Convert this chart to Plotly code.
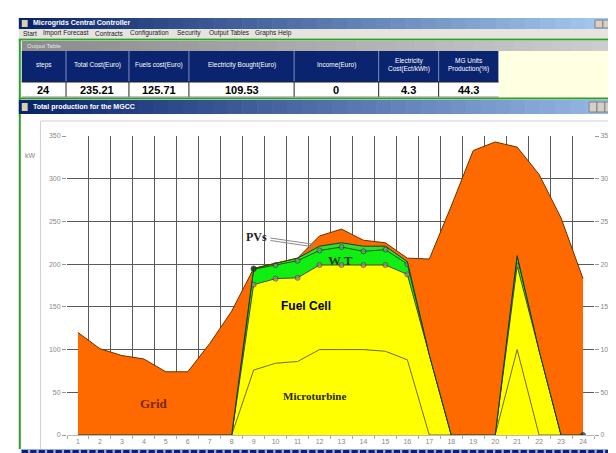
import plotly.graph_objects as go

# ---------------- data ----------------
hours = list(range(1, 25))
hour_labels = [str(h) for h in hours]
microturbine = [0, 0, 0, 0, 0, 0, 0, 0, 76, 84, 86, 100, 100, 100, 98, 88, 0, 0, 0, 0, 100, 0, 0, 0]
fuel_cell = [0, 0, 0, 0, 0, 0, 0, 0, 100, 99, 98, 99, 99, 99, 101, 100, 94, 0, 0, 0, 98, 99, 0, 0]
wind_turbine = [0, 0, 0, 0, 0, 0, 0, 0, 18, 16, 20, 17, 21, 16, 18, 12, 0, 0, 0, 0, 12, 0, 0, 0]
pv = [0, 0, 0, 0, 0, 0, 0, 0, 1, 2, 3, 5, 5, 6, 4, 3, 0, 0, 0, 0, 0, 0, 0, 0]
grid = [120, 101, 93, 89, 74, 74, 107, 145, 0, 0, 0, 12, 16, 7, 4, 4, 112, 268, 333, 343, 127, 206, 254, 183]
y_ticks = [0, 50, 100, 150, 200, 250, 300, 350]

table_headers = ["steps", "Total Cost(Euro)", "Fuels cost(Euro)", "Electricity Bought(Euro)",
                 "Income(Euro)", "Electricity<br>Cost(Ect/kWh)", "MG Units<br>Production(%)"]
table_values = ["24", "235.21", "125.71", "109.53", "0", "4.3", "44.3"]
menu_items = ["Start", "Import Forecast", "Contracts", "Configuration", "Security",
              "Output Tables", "Graphs", "Help"]

# ---------------- geometry helpers ----------------
W, H = 616, 453
L, R, T, B = 59, 595, 128, 427


def X(px):
    return (px - L) / (R - L)


def Y(py):
    return (B - py) / (B - T)


shapes = []
annotations = []


def rect(x0, y0, x1, y1, color, line=None, layer="above"):
    d = dict(type="rect", xref="paper", yref="paper", x0=X(x0), x1=X(x1), y0=Y(y1), y1=Y(y0),
             fillcolor=color, layer=layer, line=dict(width=0))
    if line:
        d["line"] = dict(color=line, width=1)
    shapes.append(d)


def hline(x0, x1, y, color, w=1):
    shapes.append(dict(type="line", xref="paper", yref="paper", x0=X(x0), x1=X(x1), y0=Y(y), y1=Y(y),
                       line=dict(color=color, width=w)))


def vline(x, y0, y1, color, w=1):
    shapes.append(dict(type="line", xref="paper", yref="paper", x0=X(x), x1=X(x), y0=Y(y0), y1=Y(y1),
                       line=dict(color=color, width=w)))


def text(px, py, s, size=7, color="black", bold=False, family="Arial, Liberation Sans", anchor="center"):
    if bold:
        s = "<b>" + s + "</b>"
    annotations.append(dict(xref="paper", yref="paper", x=X(px), y=Y(py), text=s, showarrow=False,
                            xanchor=anchor, yanchor="middle", font=dict(size=size, color=color, family=family)))


def gradient(x0, y0, x1, y1, c0, c1, n=40):
    step = (x1 - x0) / n
    for i in range(n):
        t = i / (n - 1)
        c = tuple(int(c0[k] + (c1[k] - c0[k]) * t) for k in range(3))
        rect(x0 + i * step, y0, x0 + (i + 1) * step + 0.6, y1, "rgb(%d,%d,%d)" % c)


# ---------------- UI chrome ----------------
# main title bar
gradient(10, 10, 616, 21, (10, 36, 106), (166, 202, 240))
text(22, 15.5, "Microgrids Central Controller", size=7, color="white", bold=True, anchor="left")
rect(13, 12, 19, 19, "#d8d0b0")
rect(596, 12, 604, 20, "#d4d0c8", line="#808080")
rect(604, 12, 612, 20, "#d4d0c8", line="#808080")
# menu bar
rect(10, 21, 616, 30, "#e6e4de")
menu_x = [12, 33, 85, 121, 169, 201, 248, 272]
for mx, item in zip(menu_x, menu_items):
    text(mx, 25.5, item, size=6.5, color="#222", anchor="left")
# green frame
hline(10, 616, 31.5, "#2f9e2f", 2)
hline(10, 616, 90.5, "#2f9e2f", 2)
vline(11, 31, 441, "#2f9e2f", 2)
vline(614.5, 31, 91, "#2f9e2f", 2)
# output table header bar
gradient(13, 33, 613, 43, (140, 140, 140), (205, 205, 205), n=30)
text(16, 38, "Output Table", size=6, color="#e8e8e8", anchor="left")
# table
rect(13, 43, 498, 74, "#0b2470")
rect(13, 74, 498, 89, "white")
rect(498, 43, 613, 89, "#ffffe1")
col_edges = [13, 58, 122, 183, 290, 376, 437, 498]
for e in col_edges[1:-1]:
    vline(e, 43, 74, "#7f8fc0")
    vline(e, 74, 89, "#222")
hline(13, 498, 74, "#222")
hline(13, 498, 89, "#888")
for i in range(7):
    cx = (col_edges[i] + col_edges[i + 1]) / 2
    text(cx, 57, table_headers[i], size=6.5, color="white")
    text(cx, 82, table_values[i], size=11, color="black", bold=True)
# inner window title bar
gradient(10, 92, 616, 106, (10, 36, 106), (150, 185, 230))
rect(13, 95, 19, 103, "#d8d0b0")
text(22, 99, "Total production for the MGCC", size=7, color="white", bold=True, anchor="left")
for bx in (590, 598, 606):
    rect(bx, 94, bx + 8, 104, "#d4d0c8", line="#808080")
# chart frame
hline(32, 616, 113, "#cfcfcf")
vline(32, 113, 441, "#cfcfcf")
# bottom strip
rect(12, 441, 616, 453, "#9ab0e0")
bx = 13.0
while bx < 616:
    rect(bx, 442, min(bx + 6.3, 616), 453, "#0c1f73")
    bx += 8.6

# ---------------- chart labels ----------------
text(22, 147, "kW", size=7, color="#888")
text(252, 229, "PVs", size=12, color="#222", bold=True, family="Liberation Serif, Times New Roman")
shapes.append(dict(type="line", xref="paper", yref="paper", x0=X(266), y0=Y(230), x1=X(311), y1=Y(236.5),
                   line=dict(color="#8a8a8a", width=1)))
shapes.append(dict(type="line", xref="paper", yref="paper", x0=X(266), y0=Y(232.5), x1=X(311), y1=Y(239),
                   line=dict(color="#8a8a8a", width=1)))
text(337, 252, "W T", size=13, color="#1e3a10", bold=True, family="Liberation Serif, Times New Roman")
text(302, 298, "Fuel Cell", size=12, color="black", bold=True)
text(311, 388, "Microturbine", size=11, color="#2a2a00", bold=True, family="Liberation Serif, Times New Roman")
text(147, 395, "Grid", size=13, color="#7a2800", bold=True, family="Liberation Serif, Times New Roman")

# ---------------- traces ----------------
active = [h for h in hours]
mk_fc_size = [5 if (9 <= h <= 16 or h == 21) else 0 for h in hours]
mk_wt_size = [5 if (9 <= h <= 16 or h == 21) else 0 for h in hours]
mk_wt_color = ["#5cc7cf" if h == 21 else "#9a7cc4" for h in hours]
mk_pv_size = [5 if h in (9, 24) else 0 for h in hours]

fig = go.Figure()
fig.add_trace(go.Scatter(x=hours, y=microturbine, stackgroup="one", mode="lines",
                         line=dict(color="#6f6a00", width=1), fillcolor="#ffff00", name="Microturbine"))
fig.add_trace(go.Scatter(x=hours, y=fuel_cell, stackgroup="one", mode="lines+markers",
                         line=dict(color="#4a4a20", width=1), fillcolor="#ffff00", name="Fuel Cell",
                         marker=dict(size=mk_fc_size, color="#9a7cc4")))
fig.add_trace(go.Scatter(x=hours, y=wind_turbine, stackgroup="one", mode="lines+markers",
                         line=dict(color="#0a5a0a", width=1), fillcolor="#11ee11", name="WT",
                         marker=dict(size=mk_wt_size, color=mk_wt_color)))
fig.add_trace(go.Scatter(x=hours, y=pv, stackgroup="one", mode="lines+markers",
                         line=dict(color="#064006", width=1), fillcolor="#33dd33", name="PVs",
                         marker=dict(size=mk_pv_size, color="#151560")))
fig.add_trace(go.Scatter(x=hours, y=grid, stackgroup="one", mode="lines",
                         line=dict(color="#6a3000", width=1), fillcolor="#ff6a00", name="Grid"))
fig.add_trace(go.Scatter(x=hours, y=grid, yaxis="y2", mode="lines", opacity=0,
                         line=dict(width=0), hoverinfo="skip", showlegend=False))

fig.update_layout(
    width=W, height=H,
    margin=dict(l=L, r=W - R, t=T, b=H - B, pad=0),
    paper_bgcolor="white", plot_bgcolor="white",
    showlegend=False,
    xaxis=dict(range=[0.5, 24.5], tickmode="array", tickvals=hours, ticktext=hour_labels,
               tickfont=dict(size=7, color="#888", family="Arial, Liberation Sans"),
               showgrid=False, zeroline=False, showline=True, linecolor="#bbbbbb",
               ticks="", fixedrange=True,
               minor=dict(tickmode="array", tickvals=[h - 0.5 for h in hours] + [24.5],
                          showgrid=True, gridcolor="#5a5a5a", gridwidth=1,
                          ticks="outside", ticklen=3, tickcolor="#aaaaaa")),
    yaxis=dict(range=[0, 350], tickmode="array", tickvals=y_ticks,
               tickfont=dict(size=7, color="#888", family="Arial, Liberation Sans"),
               showgrid=True, gridcolor="#5a5a5a", gridwidth=1, zeroline=False,
               ticks="outside", ticklen=4, tickcolor="#999999", fixedrange=True),
    yaxis2=dict(range=[0, 350], tickmode="array", tickvals=y_ticks, overlaying="y", side="right",
                tickfont=dict(size=7, color="#888", family="Arial, Liberation Sans"),
                showgrid=False, zeroline=False, ticks="outside", ticklen=4, tickcolor="#999999",
                fixedrange=True),
    shapes=shapes,
    annotations=annotations,
)

fig.write_html("out.html")
